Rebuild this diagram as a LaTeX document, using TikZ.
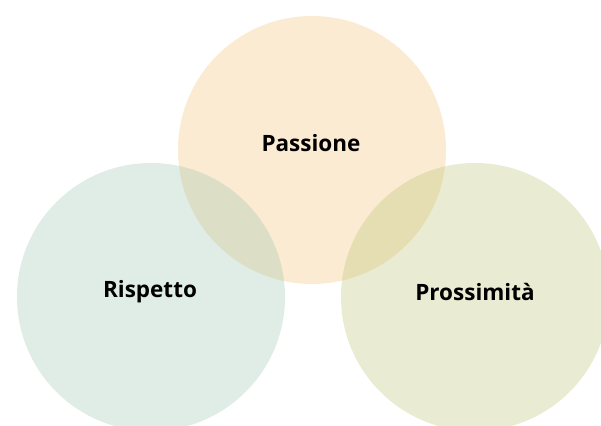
\documentclass[tikz,border=0pt]{standalone}
\usepackage{fontspec}
\setmainfont{Open Sans}
\definecolor{peach}{RGB}{245,188,108}
\definecolor{sage}{RGB}{148,195,172}
\definecolor{olive}{RGB}{182,192,108}
\tikzset{
  petal/.style={circle, minimum size=268pt, inner sep=0pt, fill opacity=0.3, draw=none},
  caption/.style={font=\fontsize{22.5}{26}\selectfont\bfseries, text=black}
}
\begin{document}
\begin{tikzpicture}[x=1pt,y=1pt]
  \useasboundingbox (0,0) rectangle (601,425);
  \clip (0,0) rectangle (601,425);
  \node[petal, fill=peach] (passione) at (312,275) {};
  \node[petal, fill=sage]  (rispetto) at (151,128) {};
  \node[petal, fill=olive] (prossimita) at (475,128) {};
  \node[caption] (tpassione) at (311,282) {Passione};
  \node[caption] (trispetto) at (150,133) {Rispetto};
  \node[caption] (tprossimita) at (475,133) {Prossimità};
\end{tikzpicture}
\end{document}
